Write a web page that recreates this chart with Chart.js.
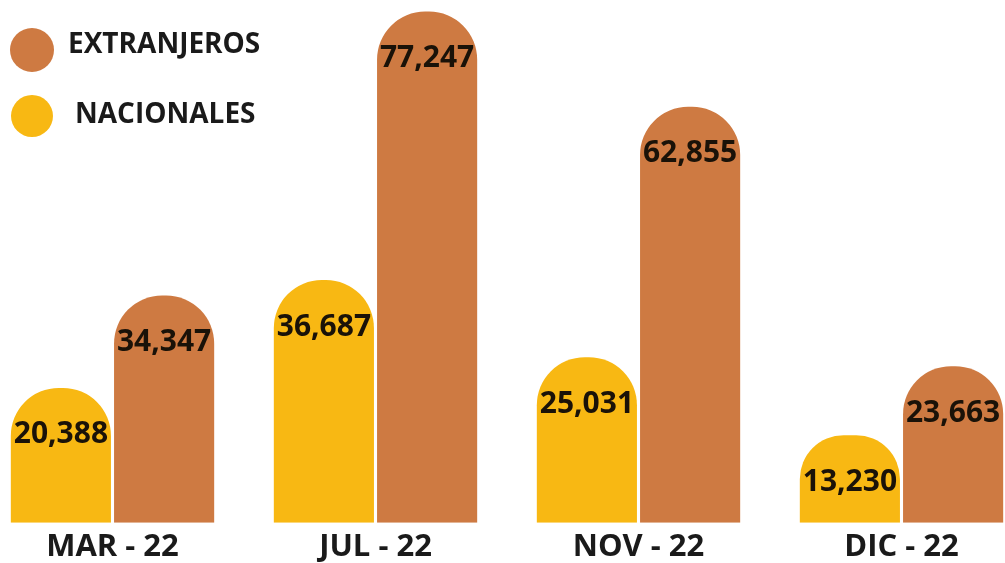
<!DOCTYPE html>
<html>
<head>
<meta charset="utf-8">
<script src="https://cdn.jsdelivr.net/npm/chart.js@4"></script>
<style>
  html, body { margin: 0; padding: 0; background: #ffffff; width: 1005px; height: 563px; overflow: hidden; }
  #wrap { position: absolute; left: -19px; top: 0; width: 1052px; height: 572px; }
  #legend { position: absolute; left: 0; top: 0; font-family: "Open Sans", sans-serif; font-weight: 700; font-size: 28px; line-height: 38px; color: #1a1a1a; }
  .dot { position: absolute; border-radius: 50%; }
  .lbl { position: absolute; white-space: nowrap; }
</style>
</head>
<body>
<div id="wrap"><canvas id="c" width="1052" height="572"></canvas></div>
<div id="legend"></div>
<script>
const categories = ["MAR - 22", "JUL - 22", "NOV - 22", "DIC - 22"];
const nacionales = [20388, 36687, 25031, 13230];
const extranjeros = [34347, 77247, 62855, 23663];
const seriesNames = ["NACIONALES", "EXTRANJEROS"];
const colorNac = "#F8B813";
const colorExt = "#CE7A42";

// legend (EXTRANJEROS first, then NACIONALES)
const legend = document.getElementById('legend');
[
  { name: seriesNames[1], col: colorExt, dx: 10, dy: 28, ds: 44, tx: 68, ty: 23 },
  { name: seriesNames[0], col: colorNac, dx: 11, dy: 95, ds: 42, tx: 75, ty: 93 }
].forEach(o => {
  const d = document.createElement('div'); d.className = 'dot';
  d.style.background = o.col; d.style.left = o.dx + 'px'; d.style.top = o.dy + 'px';
  d.style.width = o.ds + 'px'; d.style.height = o.ds + 'px';
  const t = document.createElement('div'); t.className = 'lbl';
  t.textContent = o.name; t.style.left = o.tx + 'px'; t.style.top = o.ty + 'px';
  legend.appendChild(d); legend.appendChild(t);
});

const valueLabels = {
  id: 'valueLabels',
  afterDatasetsDraw(chart) {
    const ctx = chart.ctx;
    ctx.save();
    ctx.font = '700 30px "Open Sans"';
    ctx.fillStyle = '#1a1208';
    ctx.textAlign = 'center';
    ctx.textBaseline = 'middle';
    chart.data.datasets.forEach((ds, i) => {
      chart.getDatasetMeta(i).data.forEach((el, j) => {
        ctx.fillText(ds.data[j].toLocaleString('en-US'), el.x, el.y + 47);
      });
    });
    ctx.restore();
  }
};

new Chart(document.getElementById('c'), {
  type: 'bar',
  data: {
    labels: categories,
    datasets: [
      { label: seriesNames[0], data: nacionales, backgroundColor: colorNac,
        borderRadius: { topLeft: 48, topRight: 48 }, borderSkipped: 'bottom' },
      { label: seriesNames[1], data: extranjeros, backgroundColor: colorExt,
        borderRadius: { topLeft: 48, topRight: 48 }, borderSkipped: 'bottom' }
    ]
  },
  options: {
    responsive: false,
    animation: false,
    devicePixelRatio: 1,
    layout: { padding: 0 },
    categoryPercentage: 0.785,
    barPercentage: 0.97,
    plugins: { legend: { display: false }, tooltip: { enabled: false } },
    scales: {
      x: {
        grid: { display: false, drawTicks: false },
        border: { display: false },
        ticks: { color: '#1a1a1a', padding: 6, font: { family: 'Open Sans', weight: '700', size: 31 } }
      },
      y: { display: false, min: 0, max: 79000 }
    }
  },
  plugins: [valueLabels]
});
</script>
</body>
</html>
